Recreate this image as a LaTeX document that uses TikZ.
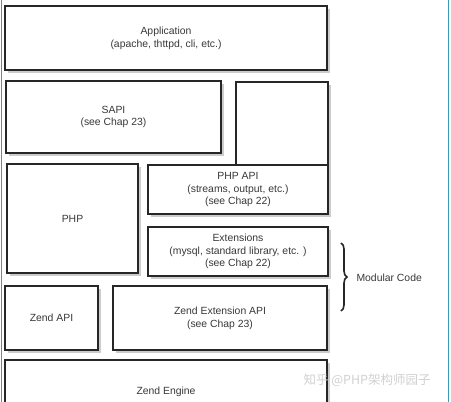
\documentclass[tikz,border=0pt]{standalone}
\usepackage{fontspec}
\setmainfont{Liberation Sans}
\newfontfamily\cjk{Noto Sans CJK SC}
\usetikzlibrary{shadows,decorations.pathreplacing}
\definecolor{teal1}{HTML}{3A9DB3}
\tikzset{
  lbl/.style={font=\fontsize{10.4}{12.8}\selectfont, text=black!78},
  layer/.style={draw=black!85, line width=1.1pt, fill=white, inner sep=0pt, align=center, lbl,
     drop shadow={shadow xshift=3pt, shadow yshift=-3pt, fill=black!20, opacity=1}},
}
\newcommand{\layerbox}[6]{% name, x1, y1, x2, y2, text
  \node[layer, minimum width={(#4-#2)*1pt}, minimum height={(#5-#3)*1pt}] (#1) at ({(#2+#4)/2},{(#3+#5)/2}) {#6};}
\begin{document}
\begin{tikzpicture}[x=1pt,y=-1pt]
\useasboundingbox (0,0) rectangle (451,402);
\clip (0,0) rectangle (451,402);
\fill[white] (0,0) rectangle (451,402);
\draw[teal1, line width=1.2pt] (1.5,0) -- (1.5,402);
\draw[teal1, line width=1.2pt] (448.5,0) -- (448.5,402);
\layerbox{app}{5}{6}{327}{70}{Application\\(apache, thttpd, cli, etc.)}
\layerbox{sapi}{6}{81}{221}{153}{SAPI\\(see Chap 23)}
\layerbox{blank}{236}{82}{328}{165}{}
\layerbox{php}{7}{164}{138}{273}{PHP}
\layerbox{phpapi}{148}{165}{328}{214}{PHP API\\(streams, output, etc.)\\(see Chap 22)}
\layerbox{ext}{148}{227}{328}{276}{Extensions\\(mysql, standard library, etc. )\\(see Chap 22)}
\layerbox{zapi}{5}{286}{98}{350}{Zend API}
\layerbox{zext}{113}{286}{327}{350}{Zend Extension API\\(see Chap 23)}
\layerbox{zeng}{5}{360}{327}{425}{}
\node[lbl] (zengl) at (166,392) {Zend Engine};
\coordinate (bt) at (341,243);
\coordinate (bb) at (341,311);
\draw[decorate, decoration={brace, amplitude=6pt}, line width=1.6pt, black!85] (bt) -- (bb);
\node[anchor=west, lbl] (mod) at (353,278) {Modular Code};
\node[anchor=west, font=\cjk\fontsize{12.5}{14}\selectfont, text=black!18] (wm) at (300,380) {知乎 @PHP架构师园子};
\end{tikzpicture}
\end{document}
